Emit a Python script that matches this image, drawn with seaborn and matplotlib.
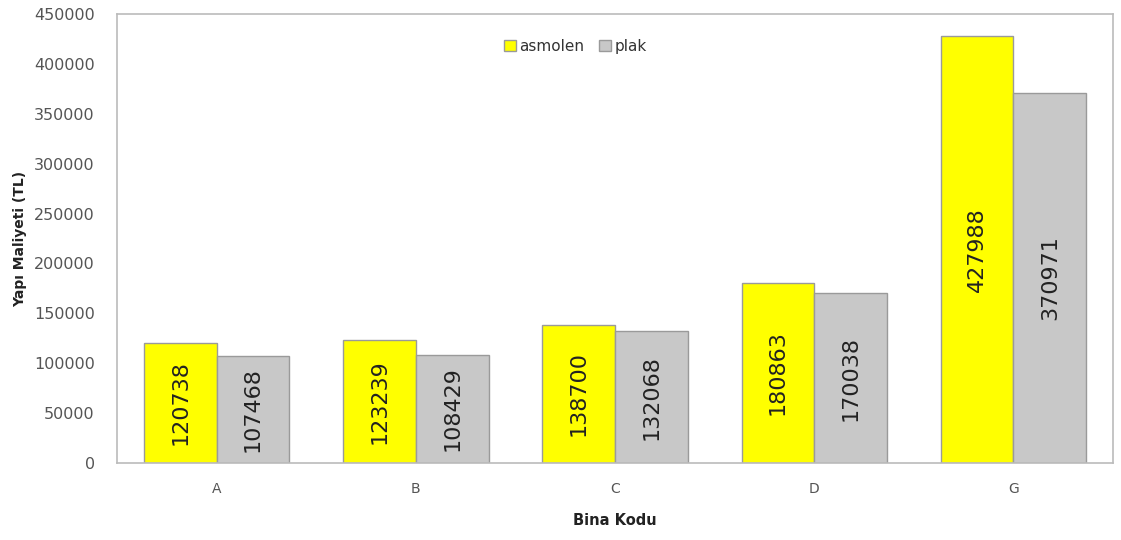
import matplotlib
matplotlib.use("Agg")
import matplotlib.pyplot as plt
import seaborn as sns
import pandas as pd

categories = ["A", "B", "C", "D", "G"]
asmolen = [120738, 123239, 138700, 180863, 427988]
plak = [107468, 108429, 132068, 170038, 370971]
series_names = ["asmolen", "plak"]
yticks = [0, 50000, 100000, 150000, 200000, 250000, 300000, 350000, 400000, 450000]

df = pd.DataFrame({
    "Bina Kodu": categories * 2,
    "value": asmolen + plak,
    "series": [series_names[0]] * len(categories) + [series_names[1]] * len(categories),
})

sns.set_theme(style="white")
plt.rcParams['font.family'] = ['DejaVu Sans']

fig = plt.figure(figsize=(11.21, 5.40), dpi=100)
ax = fig.add_axes([0.1044, 0.1426, 0.8885, 0.8315])

sns.barplot(data=df, x="Bina Kodu", y="value", hue="series", order=categories,
            hue_order=series_names, palette=["#FFFF00", "#C8C8C8"],
            width=0.73, gap=0, edgecolor="#9A9A9A", linewidth=1.0,
            saturation=1, ax=ax)

ax.set_xlim(-0.5, 4.5)
ax.set_ylim(0, 450000)
ax.set_yticks(yticks)
ax.set_yticklabels([str(v) for v in yticks], fontsize=11.5, color="#555555")
ax.tick_params(axis="x", labelsize=10, colors="#555555", length=0, pad=14)
ax.tick_params(axis="y", length=0, pad=16)

for c in ax.containers:
    for bar in c:
        h = bar.get_height()
        ax.text(bar.get_x() + bar.get_width() / 2, h / 2, f"{int(round(h))}",
                rotation=90, ha="center", va="center", fontsize=16, color="#222222")

ax.set_xlabel("Bina Kodu", fontsize=10.5, fontweight="bold", color="#222222", labelpad=12)
ax.set_ylabel("Yapı Maliyeti (TL)", fontsize=10, fontweight="bold", color="#222222", labelpad=5)

for s in ax.spines.values():
    s.set_color("#BBBBBB")
    s.set_linewidth(1.2)

leg = ax.legend(loc="upper center", bbox_to_anchor=(0.46, 0.975), ncol=2, frameon=False,
                fontsize=11, handlelength=0.8, handleheight=0.8, handletextpad=0.2,
                columnspacing=1.0, title=None)
for t in leg.get_texts():
    t.set_color("#333333")

fig.savefig("out.png", dpi=100)
